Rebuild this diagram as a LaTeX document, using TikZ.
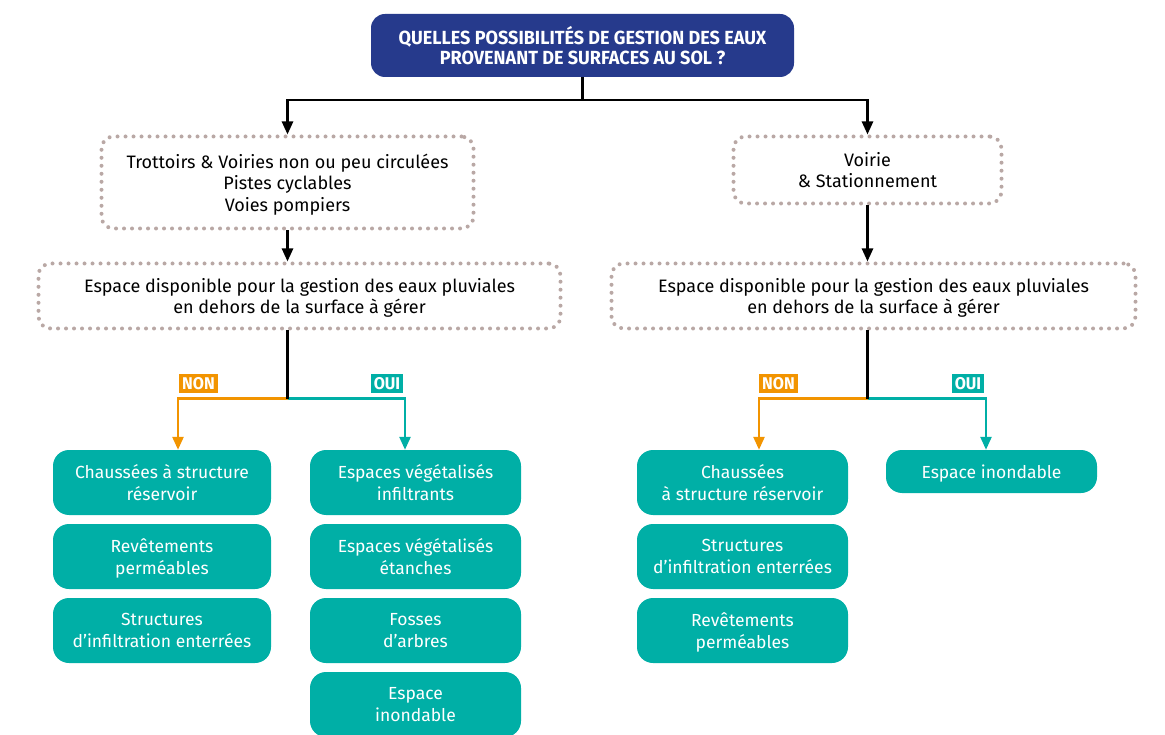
\documentclass[tikz,border=0pt]{standalone}
\usepackage{fontspec}
\setmainfont{Fira Sans}
\newfontfamily\titlefont{Fira Sans}[FakeStretch=0.95]
\usetikzlibrary{calc}
\usetikzlibrary{arrows.meta}

\definecolor{titleblue}{RGB}{38,58,140}
\definecolor{eauteal}{RGB}{0,175,166}
\definecolor{nonorange}{RGB}{242,148,0}
\definecolor{dotgrey}{RGB}{185,168,165}

\begin{document}
\begin{tikzpicture}[x=1pt,y=-1pt,
  question/.style={fill=titleblue,rounded corners=14pt,minimum width=423pt,minimum height=63pt,
    text=white,align=center,font=\titlefont\bfseries\fontsize{19}{19.5}\selectfont},
  surface/.style={draw=dotgrey,line width=4pt,dash pattern=on 0pt off 8pt,line cap=round,
    rounded corners=12pt,align=center,text depth=0pt,font=\fontsize{18}{21.5}\selectfont},
  solution/.style={fill=eauteal,rounded corners=16pt,minimum height=65pt,
    text=white,align=center,text depth=0pt,font=\fontsize{17.5}{21.5}\selectfont},
  fleche/.style={line width=2.5pt,-{Triangle[width=11pt,length=13pt]}},
  non/.style={fleche,draw=nonorange},
  oui/.style={fleche,draw=eauteal},
  choix/.style={inner xsep=3pt,inner ysep=0pt,minimum height=19pt,text=white,
    font=\titlefont\bfseries\fontsize{17}{17}\selectfont}
]

\useasboundingbox (0,0) rectangle (1165,735);

% question
\node[question] (question) at (582.5,45.5) {QUELLES POSSIBILITÉS DE GESTION DES EAUX\\PROVENANT DE SURFACES AU SOL ?};

% surfaces
\node[surface,minimum width=372pt,minimum height=92pt] (trottoirs) at (287.5,182.5)
  {Trottoirs \& Voiries non ou peu circulées\\Pistes cyclables\\Voies pompiers};
\node[surface,minimum width=268pt,minimum height=67pt] (voirie) at (867.5,170)
  {Voirie\\\& Stationnement};
\node[surface,minimum width=522pt,minimum height=65pt] (dispoL) at (299.5,296)
  {Espace disponible pour la gestion des eaux pluviales\\en dehors de la surface à gérer};
\node[surface,minimum width=524pt,minimum height=65pt] (dispoR) at (873.5,296)
  {Espace disponible pour la gestion des eaux pluviales\\en dehors de la surface à gérer};

% solutions a gauche
\node[solution,minimum width=218pt] (chausseeL) at (162,482.5) {Chaussées à structure\\réservoir};
\node[solution,minimum width=218pt] (revetL) at (162,556.5) {Revêtements\\perméables};
\node[solution,minimum width=218pt] (structL) at (162,630.5) {Structures\\d’infiltration enterrées};
\node[solution,minimum width=211pt] (vegInf) at (415.5,482.5) {Espaces végétalisés\\infiltrants};
\node[solution,minimum width=211pt] (vegEt) at (415.5,556.5) {Espaces végétalisés\\étanches};
\node[solution,minimum width=211pt] (fosses) at (415.5,630.5) {Fosses\\d’arbres};
\node[solution,minimum width=211pt] (inondL) at (415.5,704.5) {Espace\\inondable};

% solutions a droite
\node[solution,minimum width=211pt] (chausseeR) at (742.5,482.5) {Chaussées\\à structure réservoir};
\node[solution,minimum width=211pt] (structR) at (742.5,556.5) {Structures\\d’infiltration enterrées};
\node[solution,minimum width=211pt] (revetR) at (742.5,630.5) {Revêtements\\perméables};
\node[solution,minimum width=211pt,minimum height=43pt] (inondR) at (991.5,471.5) {Espace inondable};

% liaisons
\draw[line width=2.5pt] (question.south) -- ++(0,23) coordinate (haut);
\draw[fleche] (haut) -| (trottoirs.north);
\draw[fleche] (haut) -| (voirie.north);
\draw[fleche] (trottoirs.south) -- (trottoirs.south |- dispoL.north);
\draw[fleche] (voirie.south) -- (voirie.south |- dispoR.north);

\coordinate (noeudL) at ($(trottoirs.south |- dispoL.south)+(0,68)$);
\coordinate (noeudR) at ($(voirie.south |- dispoR.south)+(0,68)$);
\draw[non] (noeudL) -| ([xshift=16pt]chausseeL.north);
\draw[oui] (noeudL) -| ([xshift=-10.5pt]vegInf.north);
\draw[non] (noeudR) -| ([xshift=16.5pt]chausseeR.north);
\draw[oui] (noeudR) -| ([xshift=-5.5pt]inondR.north);
\draw[line width=2.5pt] (trottoirs.south |- dispoL.south) -- (noeudL);
\draw[line width=2.5pt] (voirie.south |- dispoR.south) -- (noeudR);

\node[choix,fill=nonorange] (nonL) at (198.5,383.5) {NON};
\node[choix,fill=eauteal] (ouiL) at (387,383.5) {OUI};
\node[choix,fill=nonorange] (nonR) at (778.5,383.5) {NON};
\node[choix,fill=eauteal] (ouiR) at (968,383.5) {OUI};

\end{tikzpicture}
\end{document}
